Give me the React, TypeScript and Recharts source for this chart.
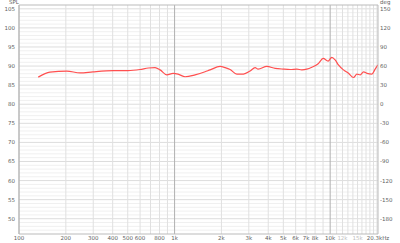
import React from 'react'
import { LineChart, Line, XAxis, YAxis, ReferenceLine } from 'recharts'

// frequency response (Hz / dB SPL)
const freqs = [133, 158, 203, 247, 299, 402, 502, 600, 678, 749, 807, 891, 978, 1053, 1168, 1355, 1570, 1690, 1962, 2113, 2275, 2512, 2770, 3058, 3294, 3444, 3917, 4430, 4988, 5534, 6110, 6577, 7080, 7627, 8374, 9016, 9703, 10250, 10770, 11300, 12180, 13120, 14130, 14850, 15610, 16380, 17230, 18540, 19460, 20270]
const spl = [87.1, 88.4, 88.7, 88.2, 88.5, 88.8, 88.8, 89.1, 89.5, 89.6, 89.0, 87.7, 88.1, 87.9, 87.2, 87.7, 88.5, 89.0, 89.9, 89.6, 89.1, 87.9, 87.9, 88.7, 89.6, 89.2, 89.9, 89.4, 89.2, 89.1, 89.2, 89.0, 89.2, 89.7, 90.6, 92.0, 91.3, 92.3, 91.6, 90.3, 89.0, 88.1, 87.0, 87.9, 87.7, 88.5, 88.1, 87.9, 89.2, 90.3]

const xTicks = [100, 200, 300, 400, 500, 600, 800, 1000, 2000, 3000, 4000, 5000, 6000, 7000, 8000, 10000, 12000, 15000, 20300]
const xTickLabels = ['100', '200', '300', '400', '500', '600', '800', '1k', '2k', '3k', '4k', '5k', '6k', '7k', '8k', '10k', '12k', '15k', '20.3kHz']
const splTicks = [50, 55, 60, 65, 70, 75, 80, 85, 90, 95, 100, 105]
const degTicks = [-180, -150, -120, -90, -60, -30, 0, 30, 60, 90, 120, 150]

const vGrid = [200, 300, 400, 500, 600, 700, 800, 900, 2000, 3000, 4000, 5000, 6000, 7000, 8000, 9000, 11000, 12000, 13000, 14000, 15000, 16000, 17000, 18000, 19000, 20000]
const vMajor = [100, 1000, 10000]
const hGrid = Array.from({ length: 59 }, (_, i) => 47 + i)

const data = freqs.map((f, i) => ({ f, spl: spl[i] }))

const font = 'DejaVu Sans, sans-serif'
const textColor = '#606060'

const XTick = (props: any) => {
  const { x, y, payload } = props
  const i = xTicks.indexOf(payload.value)
  const faint = payload.value === 12000 || payload.value === 15000
  return (
    <text x={x} y={y + 6} textAnchor="middle" fontSize={5.5} fontFamily={font} fill={faint ? '#c0c0c0' : textColor}>
      {xTickLabels[i]}
    </text>
  )
}

const LeftTick = (props: any) => {
  const { x, y, payload } = props
  return (
    <text x={x} y={y + 2} textAnchor="end" fontSize={5.5} fontFamily={font} fill={textColor}>
      {payload.value}
    </text>
  )
}

const RightTick = (props: any) => {
  const { x, y, payload } = props
  return (
    <text x={x} y={y + 2} textAnchor="start" fontSize={5.5} fontFamily={font} fill={textColor}>
      {payload.value}
    </text>
  )
}

export default function App() {
  return (
    <div style={{ position: 'absolute', left: 0, top: 0, width: 400, height: 243, background: '#fff' }}>
      <div style={{ position: 'absolute', left: 9, top: -1, fontSize: 5.5, fontFamily: font, color: textColor }}>SPL</div>
      <div style={{ position: 'absolute', left: 380, top: -1, fontSize: 5.5, fontFamily: font, color: textColor }}>deg</div>
      <LineChart width={400} height={243} data={data} margin={{ top: 5, right: 0, left: 0, bottom: 0 }}>
        <XAxis
          dataKey="f"
          type="number"
          scale="log"
          domain={[100, 20300]}
          ticks={xTicks}
          height={9}
          tick={<XTick />}
          tickLine={false}
          tickSize={0}
          tickMargin={0}
          interval={0}
          axisLine={{ stroke: '#bbb' }}
          allowDataOverflow
        />
        <YAxis
          yAxisId="l"
          domain={[46, 106]}
          ticks={splTicks}
          width={19}
          tickLine={false}
          tickSize={0}
          tickMargin={4}
          interval={0}
          tick={<LeftTick />}
          axisLine={{ stroke: '#bbb' }}
          allowDataOverflow
        />
        <YAxis
          yAxisId="r"
          orientation="right"
          domain={[-204, 156]}
          ticks={degTicks}
          width={22}
          tickLine={false}
          tickSize={0}
          tickMargin={2}
          interval={0}
          tick={<RightTick />}
          axisLine={{ stroke: '#bbb' }}
          allowDataOverflow
        />
        {hGrid.map((v) => (
          <ReferenceLine key={'h' + v} yAxisId="l" y={v} stroke={v % 5 === 0 ? '#ddd' : '#f0f0f0'} strokeWidth={1} />
        ))}
        {vGrid.map((v) => (
          <ReferenceLine key={'v' + v} yAxisId="l" x={v} stroke="#e0e0e0" strokeWidth={1} />
        ))}
        {vMajor.map((v) => (
          <ReferenceLine key={'m' + v} yAxisId="l" x={v} stroke="#b0b0b0" strokeWidth={1} />
        ))}
        <ReferenceLine yAxisId="l" y={106} stroke="#bbb" />
        <Line
          yAxisId="l"
          dataKey="spl"
          type="monotone"
          stroke="#ff4f4f"
          strokeWidth={1.2}
          dot={false}
          isAnimationActive={false}
        />
      </LineChart>
    </div>
  )
}
